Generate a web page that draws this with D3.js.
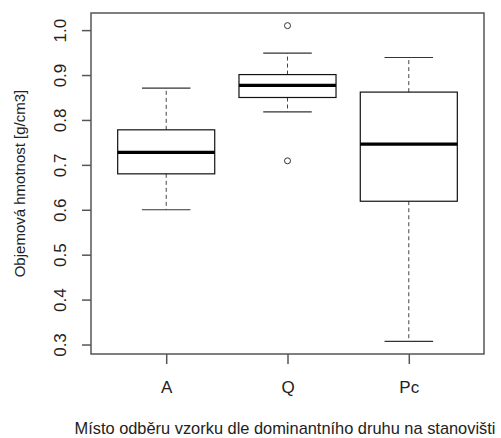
<!DOCTYPE html>
<html>
<head>
<meta charset="utf-8">
<script src="https://cdn.jsdelivr.net/npm/d3@7"></script>
<style>
  body { margin: 0; background: #fff; }
  svg { display: block; }
  text { font-family: "Liberation Sans", Arial, sans-serif; fill: #222; }
</style>
</head>
<body>
<div id="chart"></div>
<script>
// Data
const categories = ["A", "Q", "Pc"]
const whiskerLow  = [0.600, 0.818, 0.307]
const boxLow      = [0.680, 0.850, 0.619]
const medians     = [0.728, 0.877, 0.746]
const boxHigh     = [0.778, 0.901, 0.862]
const whiskerHigh = [0.871, 0.949, 0.939]
const outliers    = [[], [1.010, 0.709], []]
const yTicks      = [0.3, 0.4, 0.5, 0.6, 0.7, 0.8, 0.9, 1.0]

const yTitle = "Objemová hmotnost [g/cm3]"
const xTitle = "Místo odběru vzorku dle dominantního druhu na stanovišti"

const width = 501, height = 438
const plot = { left: 91, right: 484, top: 13, bottom: 354 }

var svg = d3.select("#chart").append("svg")
    .attr("width", width)
    .attr("height", height)

// R style extents: data range padded by 4%
let allVals = whiskerLow.concat(whiskerHigh, outliers.flat())
let lo = d3.min(allVals), hi = d3.max(allVals)
let pad = (hi - lo) * 0.04
var y = d3.scaleLinear()
    .domain([lo - pad, hi + pad])
    .range([plot.bottom, plot.top])

let n = categories.length
let xpad = n * 0.04
var x = d3.scaleLinear()
    .domain([0.5 - xpad, n + 0.5 + xpad])
    .range([plot.left, plot.right])

const boxW = 0.8, capW = 0.4

// Boxes
categories.forEach((cat, i) => {
    let c = i + 1
    let g = svg.append("g")

    // dashed whiskers
    g.append("line")
        .attr("x1", x(c)).attr("x2", x(c))
        .attr("y1", y(boxHigh[i])).attr("y2", y(whiskerHigh[i]))
        .attr("stroke", "#444").attr("stroke-dasharray", "4,3")
    g.append("line")
        .attr("x1", x(c)).attr("x2", x(c))
        .attr("y1", y(boxLow[i])).attr("y2", y(whiskerLow[i]))
        .attr("stroke", "#444").attr("stroke-dasharray", "4,3")

    // caps
    ;[whiskerLow[i], whiskerHigh[i]].forEach(v => {
        g.append("line")
            .attr("x1", x(c - capW / 2)).attr("x2", x(c + capW / 2))
            .attr("y1", y(v)).attr("y2", y(v))
            .attr("stroke", "#333").attr("stroke-width", 1.2)
    })

    // box
    g.append("rect")
        .attr("x", x(c - boxW / 2))
        .attr("y", y(boxHigh[i]))
        .attr("width", x(c + boxW / 2) - x(c - boxW / 2))
        .attr("height", y(boxLow[i]) - y(boxHigh[i]))
        .attr("fill", "none")
        .attr("stroke", "#111")
        .attr("stroke-width", 1.2)

    // median
    g.append("line")
        .attr("x1", x(c - boxW / 2)).attr("x2", x(c + boxW / 2))
        .attr("y1", y(medians[i])).attr("y2", y(medians[i]))
        .attr("stroke", "#000").attr("stroke-width", 3.2)

    // outliers
    g.selectAll("circle")
        .data(outliers[i])
        .enter().append("circle")
        .attr("cx", x(c))
        .attr("cy", d => y(d))
        .attr("r", 3)
        .attr("fill", "none")
        .attr("stroke", "#333")
        .attr("stroke-width", 1)
})

// Frame
svg.append("rect")
    .attr("x", plot.left).attr("y", plot.top)
    .attr("width", plot.right - plot.left)
    .attr("height", plot.bottom - plot.top)
    .attr("fill", "none")
    .attr("stroke", "#555")
    .attr("stroke-width", 1.5)

// Y axis
var yAxis = svg.append("g")
    .attr("transform", "translate(" + plot.left + ",0)")
    .call(d3.axisLeft(y).tickValues(yTicks).tickSize(9).tickFormat(d3.format(".1f")))
yAxis.select(".domain").remove()
yAxis.selectAll(".tick line").attr("stroke", "#555").attr("stroke-width", 1.5)
yAxis.selectAll(".tick text")
    .attr("x", null).attr("dy", null)
    .attr("transform", "translate(-25,0) rotate(-90)")
    .attr("text-anchor", "middle")
    .style("font-size", "17px")
    .style("font-family", "Liberation Sans, Arial, sans-serif")
    .attr("fill", "#222")

// X axis
var xAxis = svg.append("g")
    .attr("transform", "translate(0," + plot.bottom + ")")
    .call(d3.axisBottom(x).tickValues(d3.range(1, n + 1)).tickSize(10)
        .tickFormat(d => categories[d - 1]))
xAxis.select(".domain").remove()
xAxis.selectAll(".tick line").attr("stroke", "#555").attr("stroke-width", 1.5)
xAxis.selectAll(".tick text")
    .attr("y", 39).attr("dy", null)
    .style("font-size", "17px")
    .style("font-family", "Liberation Sans, Arial, sans-serif")
    .attr("fill", "#222")

// Titles
svg.append("text")
    .attr("transform", "translate(25," + (plot.top + plot.bottom) / 2 + ") rotate(-90)")
    .attr("text-anchor", "middle")
    .style("font-size", "15px")
    .text(yTitle)

// the reference clips this at the right edge; keep it just inside
svg.append("text")
    .attr("x", 285)
    .attr("y", 434)
    .attr("text-anchor", "middle")
    .style("font-size", "16.4px")
    .text(xTitle)
</script>
</body>
</html>
